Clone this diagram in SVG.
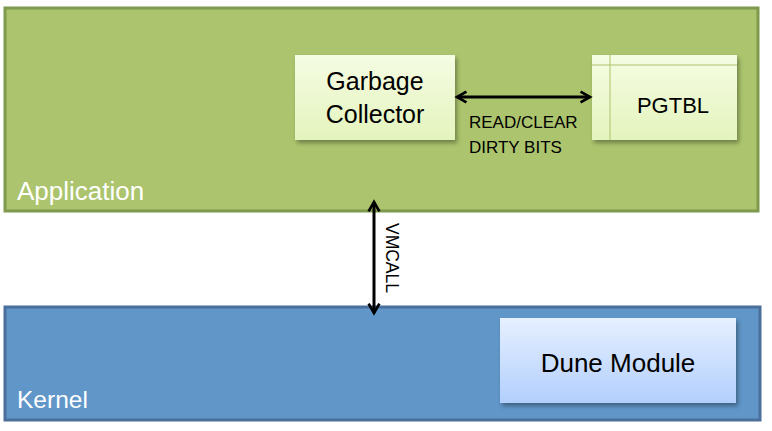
<svg xmlns="http://www.w3.org/2000/svg" width="772" height="431" viewBox="0 0 772 431">
<style>
text{font-family:"Liberation Sans",Arial,sans-serif;}
.big{font-size:25px;fill:#000;text-anchor:middle;}
.lbl{font-size:25px;fill:#fff;}
.small{font-size:17px;fill:#000;}
.conn{stroke:#000;stroke-width:3;fill:none;}
</style>
<defs>
<linearGradient id="gG" x1="0" y1="0" x2="0" y2="1"><stop offset="0" stop-color="#f5fce3"/><stop offset="1" stop-color="#e4f4bd"/></linearGradient>
<linearGradient id="gB" x1="0" y1="0" x2="0" y2="1"><stop offset="0" stop-color="#e6f0ff"/><stop offset="1" stop-color="#b2cffd"/></linearGradient>
<filter id="sh" x="-10%" y="-10%" width="130%" height="130%"><feDropShadow dx="2" dy="3" stdDeviation="2" flood-color="#000" flood-opacity="0.35"/></filter>
<marker id="ah" viewBox="0 0 10 10" refX="8" refY="5" markerWidth="4.5" markerHeight="4.5" orient="auto-start-reverse" markerUnits="strokeWidth"><path d="M1,1 L8,5 L1,9" fill="none" stroke="#000" stroke-width="2"/></marker>
</defs>
<g id="application">
<rect x="5" y="8" width="753" height="203" fill="#abc46d" stroke="#7f9a4f" stroke-width="3"/>
<text class="lbl" x="17" y="200" style="font-size:26px">Application</text>
</g>
<g id="kernel">
<rect x="5" y="307" width="755" height="113" fill="#6096c8" stroke="#4a6f9b" stroke-width="3"/>
<text class="lbl" x="17" y="408" style="font-size:24.5px">Kernel</text>
</g>
<g id="gc">
<rect x="295" y="55" width="160" height="85" fill="url(#gG)" filter="url(#sh)"/>
<text class="big" x="375" y="90">Garbage</text>
<text class="big" x="375" y="123">Collector</text>
</g>
<g id="pgtbl">
<rect x="592" y="55" width="145" height="85" fill="url(#gG)" filter="url(#sh)"/>
<line x1="592" y1="65" x2="737" y2="65" stroke="#abc46d" stroke-width="1"/>
<line x1="610" y1="55" x2="610" y2="140" stroke="#abc46d" stroke-width="1"/>
<text class="big" x="673" y="113" style="font-size:22px">PGTBL</text>
</g>
<g id="dune">
<rect x="500" y="318" width="236" height="85" fill="url(#gB)" filter="url(#sh)"/>
<text class="big" x="618" y="372" style="font-size:26px">Dune Module</text>
</g>
<g id="connectors">
<line class="conn" x1="457" y1="97" x2="590" y2="97" marker-start="url(#ah)" marker-end="url(#ah)"/>
<text class="small" x="469" y="128">READ/CLEAR</text>
<text class="small" x="469" y="153">DIRTY BITS</text>
<line class="conn" x1="374" y1="202" x2="374" y2="313" marker-start="url(#ah)" marker-end="url(#ah)"/>
<text class="small" transform="translate(386,258) rotate(90)" text-anchor="middle" style="font-size:17.5px">VMCALL</text>
</g>
</svg>
